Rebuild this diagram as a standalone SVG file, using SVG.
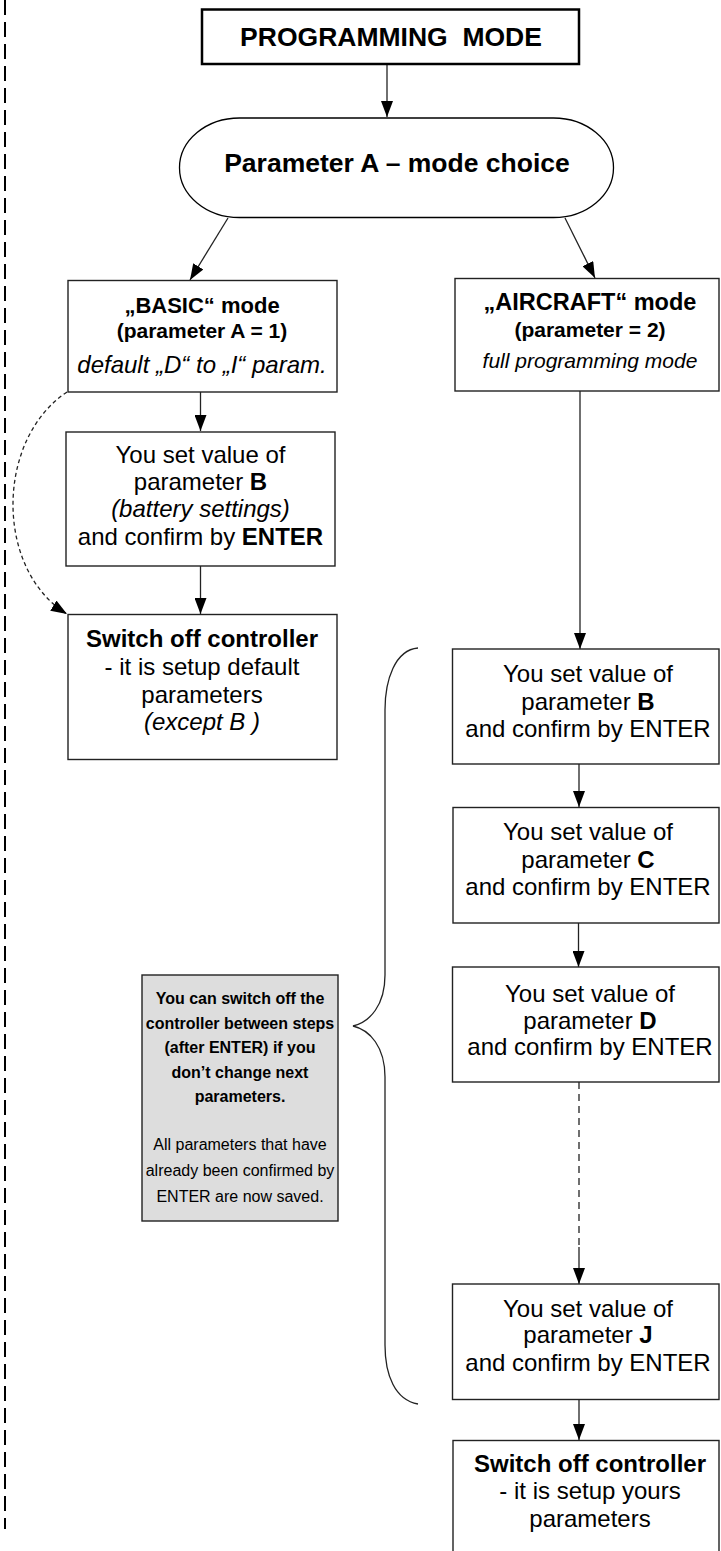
<svg xmlns="http://www.w3.org/2000/svg" width="721" height="1551" viewBox="0 0 721 1551">
<style>
text{font-family:"Liberation Sans",Arial,sans-serif;fill:#000;text-anchor:middle}
.b{font-weight:bold}
.i{font-style:italic}
.box{fill:#fff;stroke:#222;stroke-width:1.4}
.t24{font-size:24px}
.g{font-size:16px}
.ln{fill:none;stroke:#222;stroke-width:1.3}
</style>
<defs>
<marker id="ah" viewBox="0 0 16 12" refX="16" refY="6" markerWidth="16" markerHeight="12" markerUnits="userSpaceOnUse" orient="auto">
<path d="M0,0 L16,6 L0,12 z" fill="#000"/>
</marker>
</defs>
<rect width="721" height="1551" fill="#fff"/>
<line x1="5" y1="0" x2="5" y2="1529" stroke="#000" stroke-width="2" stroke-dasharray="15 7"/>

<g id="connectors">
<line class="ln" x1="387" y1="64" x2="387" y2="117" marker-end="url(#ah)"/>
<line class="ln" x1="228" y1="218" x2="190" y2="280" marker-end="url(#ah)"/>
<line class="ln" x1="565" y1="218" x2="595" y2="278" marker-end="url(#ah)"/>
<line class="ln" x1="200.5" y1="392" x2="200.5" y2="431" marker-end="url(#ah)"/>
<line class="ln" x1="200.5" y1="566" x2="200.5" y2="614" marker-end="url(#ah)"/>
<path class="ln" d="M67,392 C-5,440 -5,570 67,614" stroke-dasharray="4 3" stroke-width="1" marker-end="url(#ah)"/>
<line class="ln" x1="580" y1="391" x2="580" y2="649" marker-end="url(#ah)"/>
<line class="ln" x1="579" y1="764" x2="579" y2="807" marker-end="url(#ah)"/>
<line class="ln" x1="578.5" y1="923" x2="578.5" y2="967" marker-end="url(#ah)"/>
<line class="ln" x1="579" y1="1082" x2="579" y2="1247" stroke-dasharray="7 5" stroke-width="1.6"/>
<line class="ln" x1="579" y1="1247" x2="579" y2="1284" marker-end="url(#ah)"/>
<line class="ln" x1="579" y1="1399" x2="579" y2="1440" marker-end="url(#ah)"/>
<path class="ln" d="M418,648 C395,650 385,680 385,710 L385,975 C385,1005 370,1022 353,1026 C370,1030 385,1047 385,1077 L385,1345 C385,1375 395,1400 418,1404" stroke-width="1.2"/>
</g>

<g id="programming-mode">
<rect x="202" y="9.5" width="377" height="54.5" fill="#fff" stroke="#000" stroke-width="2.5"/>
<text class="b" x="391" y="46" font-size="26.5">PROGRAMMING&#160; MODE</text>
</g>

<g id="parameter-a">
<rect x="179.5" y="118" width="434" height="99.5" rx="60" ry="50" fill="#fff" stroke="#000" stroke-width="1.3"/>
<text class="b" x="397" y="172" font-size="26.5">Parameter A – mode choice</text>
</g>

<g id="basic-mode">
<rect class="box" x="68" y="280.5" width="269" height="111.5"/>
<text class="b" x="202" y="313" font-size="22">„BASIC“ mode</text>
<text class="b" x="202" y="338" font-size="21">(parameter A = 1)</text>
<text class="i" x="202" y="373" font-size="24">default „D“ to „I“ param.</text>
</g>

<g id="basic-set-b">
<rect class="box" x="66" y="432" width="269" height="134"/>
<text class="t24" x="200.5" y="463">You set value of</text>
<text class="t24" x="200.5" y="490">parameter <tspan class="b">B</tspan></text>
<text class="t24 i" x="200.5" y="517">(battery settings)</text>
<text class="t24" x="200.5" y="545">and confirm by <tspan class="b">ENTER</tspan></text>
</g>

<g id="basic-switch-off">
<rect class="box" x="68" y="614.5" width="269" height="145"/>
<text class="t24 b" x="202" y="647">Switch off controller</text>
<text class="t24" x="202" y="675">- it is setup default</text>
<text class="t24" x="202" y="703">parameters</text>
<text class="t24 i" x="202" y="730">(except B )</text>
</g>

<g id="aircraft-mode">
<rect class="box" x="455" y="278.5" width="264" height="112.5"/>
<text class="b" x="590" y="310" font-size="23.5">„AIRCRAFT“ mode</text>
<text class="b" x="590" y="337" font-size="21">(parameter = 2)</text>
<text class="i" x="590" y="368" font-size="21">full programming mode</text>
</g>

<g id="set-b">
<rect class="box" x="452.5" y="649" width="266.5" height="115"/>
<text class="t24" x="588" y="682">You set value of</text>
<text class="t24" x="588" y="710">parameter <tspan class="b">B</tspan></text>
<text class="t24" x="588" y="737">and confirm by ENTER</text>
</g>

<g id="set-c">
<rect class="box" x="453" y="807.5" width="266" height="115.5"/>
<text class="t24" x="588" y="840">You set value of</text>
<text class="t24" x="588" y="868">parameter <tspan class="b">C</tspan></text>
<text class="t24" x="588" y="895">and confirm by ENTER</text>
</g>

<g id="set-d">
<rect class="box" x="452.5" y="967" width="266.5" height="115"/>
<text class="t24" x="590" y="1002">You set value of</text>
<text class="t24" x="590" y="1029">parameter <tspan class="b">D</tspan></text>
<text class="t24" x="590" y="1055">and confirm by ENTER</text>
</g>

<g id="set-j">
<rect class="box" x="452.5" y="1284" width="266.5" height="115.5"/>
<text class="t24" x="588" y="1317">You set value of</text>
<text class="t24" x="588" y="1343">parameter <tspan class="b">J</tspan></text>
<text class="t24" x="588" y="1371">and confirm by ENTER</text>
</g>

<g id="aircraft-switch-off">
<rect class="box" x="453" y="1440.5" width="266" height="130"/>
<text class="t24 b" x="590" y="1472">Switch off controller</text>
<text class="t24" x="590" y="1499">- it is setup yours</text>
<text class="t24" x="590" y="1527">parameters</text>
</g>

<g id="note">
<rect x="142" y="975" width="196" height="246" fill="#dddddd" stroke="#222" stroke-width="1.4"/>
<text class="g b" x="240" y="1004">You can switch off the</text>
<text class="g b" x="240" y="1028.5">controller between steps</text>
<text class="g b" x="240" y="1053">(after ENTER) if you</text>
<text class="g b" x="240" y="1077.5">don’t change next</text>
<text class="g b" x="240" y="1102">parameters.</text>
<text class="g" x="240" y="1150">All parameters that have</text>
<text class="g" x="240" y="1176">already been confirmed by</text>
<text class="g" x="240" y="1202">ENTER are now saved.</text>
</g>
</svg>
